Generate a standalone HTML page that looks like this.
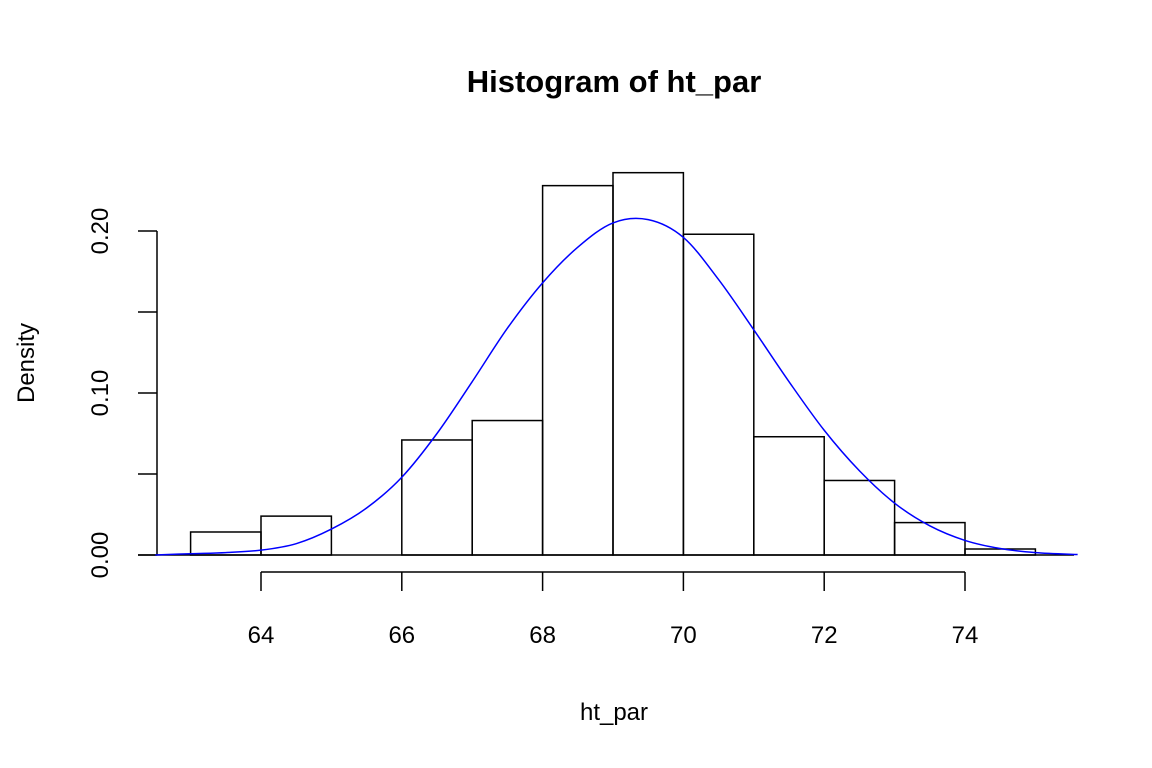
<!DOCTYPE html>
<html><head><meta charset="utf-8"><style>body{margin:0;background:#fff}svg{display:block}text{font-family:"Liberation Sans",Arial,sans-serif}</style></head>
<body>
<svg id="c" width="1152" height="768">
<text x="614" y="92" font-size="31" font-weight="bold" text-anchor="middle">Histogram of ht_par</text>
<text x="614" y="720" font-size="24" text-anchor="middle">ht_par</text>
<text transform="translate(34,363) rotate(-90)" font-size="24" text-anchor="middle">Density</text>
<g id="bars"></g><g id="axes"></g><g id="curve"></g>
</svg>
<script>
const breaks=[63,64,65,66,67,68,69,70,71,72,73,74,75];
const densities=[0.0142,0.024,0,0.071,0.083,0.228,0.236,0.198,0.073,0.046,0.020,0.0037];
const xTicks=[64,66,68,70,72,74];
const yTicks=[0,0.05,0.10,0.15,0.20];
const yLabels=["0.00","0.10","0.20"];
const curveX=[62.5,63,63.5,64,64.5,65,65.5,66,66.5,67,67.5,68,68.5,69,69.5,70,70.5,71,71.5,72,72.5,73,73.5,74,74.5,75,75.6];
const curveY=[0,0.0008,0.0015,0.003,0.007,0.016,0.029,0.048,0.075,0.107,0.14,0.168,0.19,0.205,0.207,0.196,0.17,0.139,0.107,0.077,0.052,0.032,0.018,0.009,0.004,0.0015,0.0003];
const NS="http://www.w3.org/2000/svg";
const X=v=>261+(v-64)*70.4, Y=v=>555-v*1620;
function mk(p,t,a){const e=document.createElementNS(NS,t);for(const k in a)e.setAttribute(k,a[k]);document.getElementById(p).appendChild(e);return e;}
densities.forEach((d,i)=>{
 const r=mk('bars','rect',{x:X(breaks[i]),y:Y(d),width:X(breaks[i+1])-X(breaks[i]),height:Y(0)-Y(d),fill:'none',stroke:'#000','stroke-width':1.5});
 
 
});
const bl=mk('bars','line',{x1:138,x2:1074,y1:Y(0),y2:Y(0),stroke:'#000','stroke-width':1.5});


mk('axes','line',{x1:X(xTicks[0]),x2:X(xTicks[xTicks.length-1]),y1:572,y2:572,stroke:'#000','stroke-width':1.5});
xTicks.forEach(t=>{
 mk('axes','line',{x1:X(t),x2:X(t),y1:572,y2:591,stroke:'#000','stroke-width':1.5});
 const e=mk('axes','text',{x:X(t),y:643,'font-size':24,'text-anchor':'middle'});e.textContent=t;
 
 
});
mk('axes','line',{x1:157,x2:157,y1:Y(0),y2:Y(0.2),stroke:'#000','stroke-width':1.5});
yTicks.forEach(t=>mk('axes','line',{x1:138,x2:157,y1:Y(t),y2:Y(t),stroke:'#000','stroke-width':1.5}));
yLabels.forEach(l=>{
 const v=parseFloat(l);
 const e=mk('axes','text',{transform:`translate(108,${Y(v)}) rotate(-90)`,'font-size':24,'text-anchor':'middle'});e.textContent=l;
 
 
});
const pts=curveX.map((x,i)=>[X(x),Y(curveY[i])]);
let d='M'+pts[0];
for(let i=0;i<pts.length-1;i++){const p0=pts[i-1]||pts[i],p1=pts[i],p2=pts[i+1],p3=pts[i+2]||p2;
 d+=` C${p1[0]+(p2[0]-p0[0])/6},${p1[1]+(p2[1]-p0[1])/6} ${p2[0]-(p3[0]-p1[0])/6},${p2[1]-(p3[1]-p1[1])/6} ${p2[0]},${p2[1]}`;}
const c=mk('curve','path',{d:d,fill:'none',stroke:'#0000ff','stroke-width':1.5});


</script>
</body></html>
